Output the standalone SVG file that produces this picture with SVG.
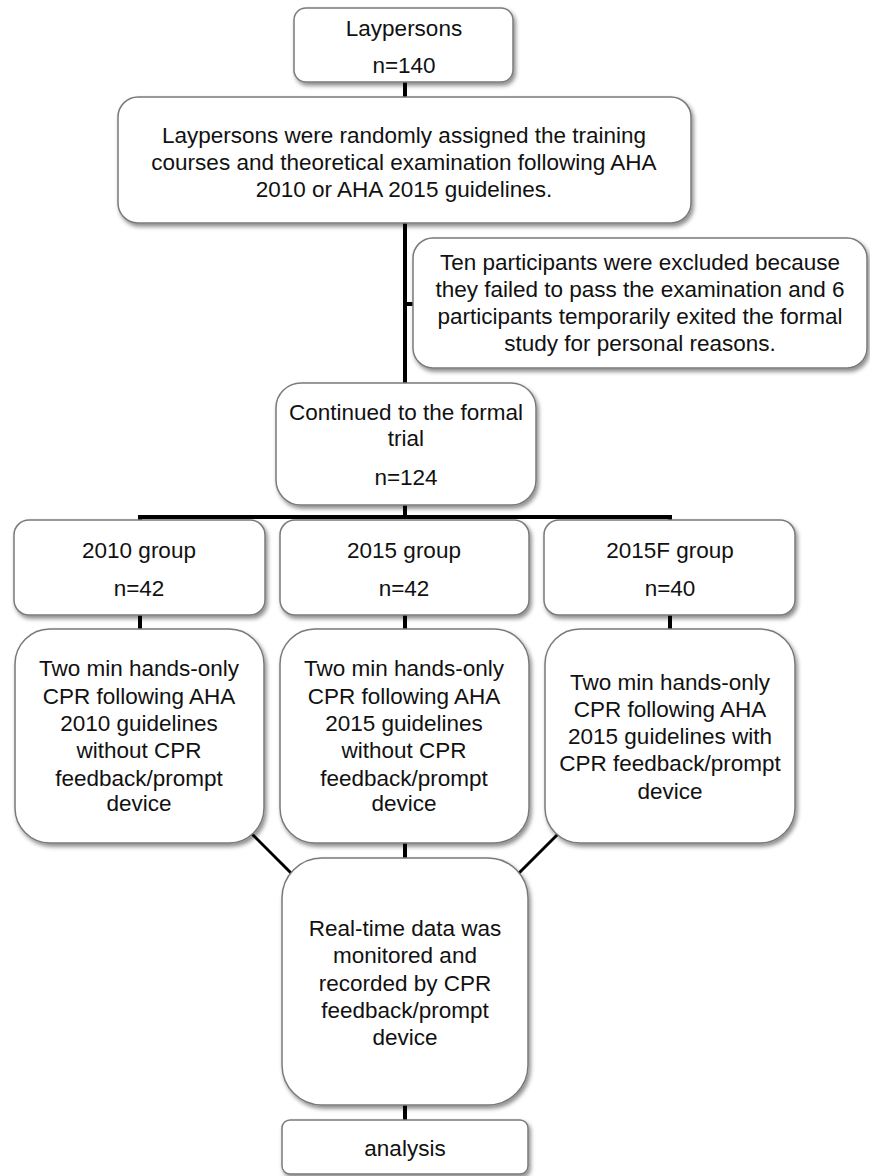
<svg xmlns="http://www.w3.org/2000/svg" width="870" height="1176" viewBox="0 0 870 1176">
<defs>
<filter id="sh" x="-10%" y="-10%" width="125%" height="130%">
<feDropShadow dx="2" dy="3" stdDeviation="2" flood-color="#000" flood-opacity="0.45"/>
</filter>
<style>
.box{fill:#fff;stroke:#7a7a7a;stroke-width:1.5;filter:url(#sh)}
.t{font-family:"Liberation Sans",Arial,sans-serif;font-size:22.5px;fill:#111;text-anchor:middle}
.c{stroke:#000;stroke-width:4;fill:none}
.d{stroke:#000;stroke-width:3;fill:none}
</style>
</defs>
<g id="connectors">
<line class="c" x1="405" y1="80" x2="405" y2="99"/>
<line class="c" x1="405" y1="221" x2="405" y2="385"/>
<line class="c" x1="405" y1="304" x2="415" y2="304"/>
<line class="c" x1="405" y1="503" x2="405" y2="517"/>
<line class="c" x1="138" y1="517" x2="672" y2="517"/>
<line class="c" x1="140" y1="515" x2="140" y2="522"/>
<line class="c" x1="670" y1="515" x2="670" y2="522"/>
<line class="c" x1="140" y1="613" x2="140" y2="631"/>
<line class="c" x1="405" y1="613" x2="405" y2="631"/>
<line class="c" x1="670" y1="613" x2="670" y2="631"/>
<line class="d" x1="250" y1="832" x2="294" y2="876"/>
<line class="d" x1="560" y1="832" x2="516" y2="876"/>
<line class="c" x1="405" y1="841" x2="405" y2="860"/>
<line class="c" x1="405" y1="1103" x2="405" y2="1122"/>
</g>
<g id="n1"><rect class="box" x="294" y="8" width="219" height="74" rx="12"/>
<text class="t" x="404" y="36">Laypersons</text><text class="t" x="404" y="73">n=140</text></g>
<g id="n2"><rect class="box" x="118" y="97" width="573" height="126" rx="20"/>
<text class="t" x="404" y="143">Laypersons were randomly  assigned the training</text>
<text class="t" x="404" y="170">courses and theoretical examination following AHA</text>
<text class="t" x="404" y="197">2010 or AHA 2015 guidelines.</text></g>
<g id="n3"><rect class="box" x="413" y="238" width="454" height="130" rx="20"/>
<text class="t" x="640" y="270">Ten participants were excluded because</text>
<text class="t" x="640" y="297">they failed to pass the examination and 6</text>
<text class="t" x="640" y="324">participants temporarily exited the formal</text>
<text class="t" x="640" y="351">study for personal reasons.</text></g>
<g id="n4"><rect class="box" x="276" y="383" width="260" height="122" rx="25"/>
<text class="t" x="406" y="420">Continued to the formal</text>
<text class="t" x="406" y="446">trial</text>
<text class="t" x="406" y="485">n=124</text></g>
<g id="g2010"><rect class="box" x="14" y="520" width="251" height="95" rx="15"/>
<text class="t" x="139" y="558">2010 group</text><text class="t" x="139" y="596">n=42</text></g>
<g id="g2015"><rect class="box" x="280" y="520" width="249" height="95" rx="15"/>
<text class="t" x="404" y="558">2015 group</text><text class="t" x="404" y="596">n=42</text></g>
<g id="g2015f"><rect class="box" x="544" y="520" width="251" height="95" rx="15"/>
<text class="t" x="670" y="558">2015F group</text><text class="t" x="670" y="596">n=40</text></g>
<g id="d2010"><rect class="box" x="15" y="629" width="249" height="214" rx="35"/>
<text class="t" x="139" y="676">Two min  hands-only</text>
<text class="t" x="139" y="704">CPR following AHA</text>
<text class="t" x="139" y="731">2010 guidelines</text>
<text class="t" x="139" y="758">without  CPR</text>
<text class="t" x="139" y="786">feedback/prompt</text>
<text class="t" x="139" y="811">device</text></g>
<g id="d2015"><rect class="box" x="280" y="629" width="249" height="214" rx="35"/>
<text class="t" x="404" y="676">Two min  hands-only</text>
<text class="t" x="404" y="704">CPR following AHA</text>
<text class="t" x="404" y="731">2015 guidelines</text>
<text class="t" x="404" y="758">without  CPR</text>
<text class="t" x="404" y="786">feedback/prompt</text>
<text class="t" x="404" y="811">device</text></g>
<g id="d2015f"><rect class="box" x="545" y="629" width="250" height="214" rx="35"/>
<text class="t" x="670" y="690">Two min  hands-only</text>
<text class="t" x="670" y="717">CPR following AHA</text>
<text class="t" x="670" y="744">2015 guidelines with</text>
<text class="t" x="670" y="771">CPR feedback/prompt</text>
<text class="t" x="670" y="799">device</text></g>
<g id="rt"><rect class="box" x="282" y="858" width="246" height="247" rx="40"/>
<text class="t" x="405" y="936">Real-time data was</text>
<text class="t" x="405" y="963">monitored  and</text>
<text class="t" x="405" y="991">recorded  by CPR</text>
<text class="t" x="405" y="1018">feedback/prompt</text>
<text class="t" x="405" y="1045">device</text></g>
<g id="an"><rect class="box" x="282" y="1120" width="246" height="54" rx="8"/>
<text class="t" x="405" y="1156">analysis</text></g>
</svg>
